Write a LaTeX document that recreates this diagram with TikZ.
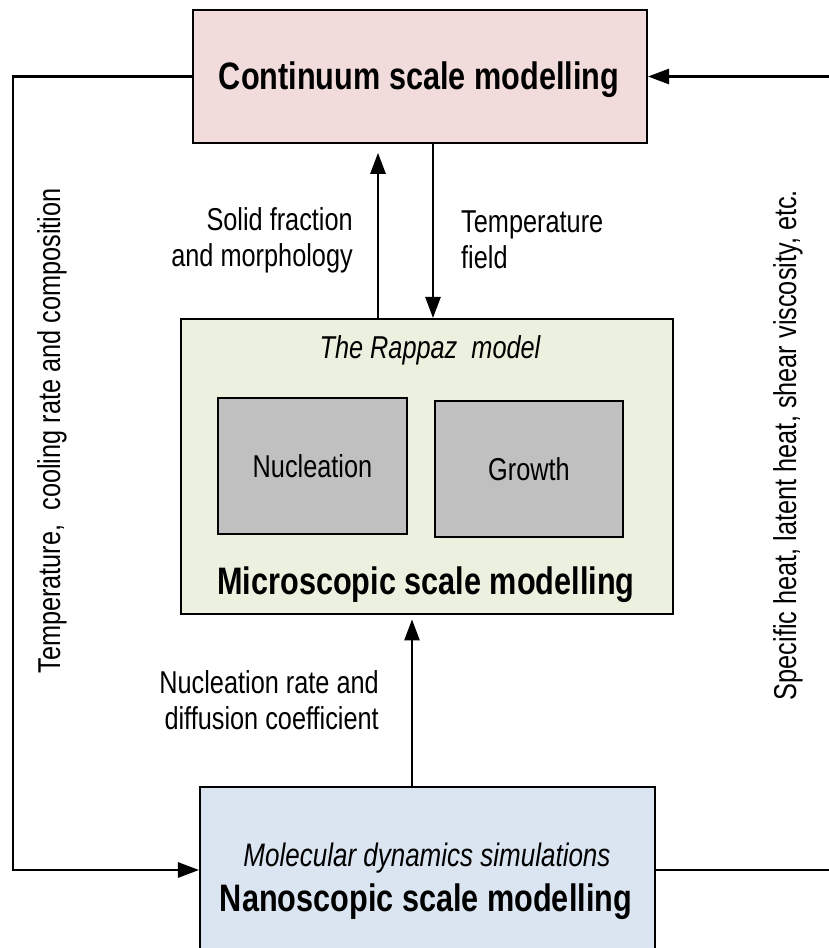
\documentclass[tikz,border=0pt]{standalone}
\usepackage{fontspec}
\setmainfont{Liberation Sans}[FakeStretch=0.8]
\usetikzlibrary{arrows.meta,calc}
\tikzset {>={Triangle[length=12pt,width=8.5pt]}}
\definecolor{contfill}{RGB}{242,220,219}
\definecolor{microfill}{RGB}{235,241,222}
\definecolor{nanofill}{RGB}{219,229,241}
\definecolor{cellfill}{RGB}{192,192,192}
\tikzset{box/.style={draw,line width=1.1pt,inner sep=0pt},
  link/.style={line width=1.6pt},
  big/.style={font=\fontsize{21.8}{26}\selectfont\bfseries},
  lbl/.style={font=\fontsize{18}{20.5}\selectfont}}

\begin{document}
\begin{tikzpicture}[x=0.02cm,y=-0.02cm]
\useasboundingbox (0,0) rectangle (829,948);
% boxes
\node[box,fill=contfill,minimum width=9.08cm,minimum height=2.66cm] (cont) at (420,76.5) {};
\node[box,fill=microfill,minimum width=9.84cm,minimum height=5.9cm] (micro) at (427,466.5) {};
\node[box,fill=cellfill,minimum width=3.78cm,minimum height=2.72cm] (nuc) at (312.5,466) {};
\node[box,fill=cellfill,minimum width=3.76cm,minimum height=2.72cm] (grow) at (529,469) {};
\node[box,fill=nanofill,minimum width=9.1cm,minimum height=3.32cm] (nano) at (427.5,870) {};
% texts
\node[big] (conttxt) at (419,80) {Continuum scale modelling};
\node[lbl,font=\fontsize{18}{20}\selectfont\itshape] (rappaz) at (430,350) {The Rappaz\ \ model};
\node[lbl] (nuctxt) at (nuc) {Nucleation};
\node[lbl] (growtxt) at (grow) {Growth};
\node[big] (microtxt) at (426,585) {Microscopic scale modelling};
\node[font=\fontsize{18.5}{20}\selectfont\itshape] (mdtxt) at (427,858) {Molecular dynamics simulations};
\node[big] (nanotxt) at (426,902) {Nanoscopic scale modelling};
% loops
\coordinate (le) at (13,0);
\coordinate (re) at (850,0);
\draw[link,->] (cont.west) -- (cont.west -| le) -- (nano.west -| le) -- (nano.west);
\draw[link,->] (nano.east) -- (nano.east -| re) -- (cont.east -| re) -- (cont.east);
% between the scales
\draw[link,->,shorten >=5pt] ($(micro.north)+(-49,0)$) -- ($(cont.south)+(-42,0)$);
\draw[link,->] ($(cont.south)+(13,0)$) -- ($(micro.north)+(6,0)$);
\draw[link,->,shorten >=2.5pt] ($(nano.north)+(-15.5,0)$) -- ($(micro.south)+(-15,0)$);
% labels
\node[lbl,align=right,anchor=east] (solid) at (359,240) {Solid fraction\\and morphology};
\node[lbl,align=left,anchor=west] (tfield) at (455,240) {Temperature\\field};
\node[lbl,align=right,anchor=east] (nrate) at (385,700) {Nucleation rate and\\diffusion coefficient};
\node[lbl,rotate=90] (ltxt) at (52,431) {Temperature,\ \ cooling rate and composition};
\node[lbl,rotate=90] (rtxt) at (788,445) {Specific heat, latent heat, shear viscosity, etc.};
\end{tikzpicture}
\end{document}
